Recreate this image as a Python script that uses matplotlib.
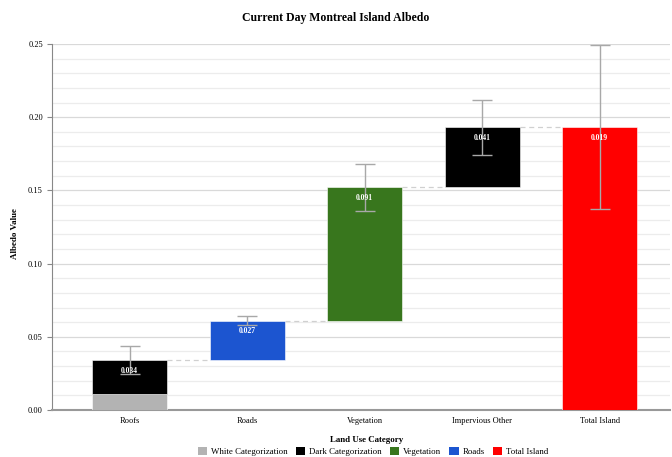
import numpy as np
import matplotlib
matplotlib.use("Agg")
import matplotlib.pyplot as plt
from matplotlib.patches import Patch
from matplotlib.ticker import MultipleLocator, FormatStrFormatter

plt.rcParams["font.family"] = ["Liberation Serif", "DejaVu Serif"]

categories = ["Roofs", "Roads", "Vegetation", "Impervious Other", "Total Island"]
increments = [0.034, 0.027, 0.091, 0.041]          # waterfall steps
roof_white = 0.011                                  # white share of roofs
roof_dark = 0.023                                   # dark share of roofs
bar_labels = ["0.034", "0.027", "0.091", "0.041", "0.019"]
errors = [0.0095, 0.003, 0.016, 0.019, 0.056]

colors = {
    "White Categorization": "#b3b3b3",
    "Dark Categorization": "#000000",
    "Vegetation": "#38761d",
    "Roads": "#1c55d0",
    "Total Island": "#ff0000",
}

tops = np.cumsum(increments)
bottoms = np.concatenate([[0], tops[:-1]])
total = tops[-1]

fig = plt.figure(figsize=(6.72, 4.57), dpi=100)
ax = fig.add_axes([0.0774, 0.1028, 0.92, 0.8009])

x = np.arange(len(categories))
w = 0.64
edge = dict(edgecolor="#ffffff", linewidth=0.4)

# Roofs: white and dark parts stacked
ax.bar(x[0], roof_white, w, bottom=0, color=colors["White Categorization"], **edge, zorder=3)
ax.bar(x[0], roof_dark, w, bottom=roof_white, color=colors["Dark Categorization"], **edge, zorder=3)
ax.bar(x[1], increments[1], w, bottom=bottoms[1], color=colors["Roads"], **edge, zorder=3)
ax.bar(x[2], increments[2], w, bottom=bottoms[2], color=colors["Vegetation"], **edge, zorder=3)
ax.bar(x[3], increments[3], w, bottom=bottoms[3], color=colors["Dark Categorization"], **edge, zorder=3)
ax.bar(x[4], total, w, bottom=0, color=colors["Total Island"], **edge, zorder=3)

bar_tops = list(tops) + [total]

# connector lines between consecutive bars
for i in range(len(categories) - 1):
    ax.plot([x[i] + w / 2, x[i + 1] - w / 2], [bar_tops[i], bar_tops[i]],
            ls=(0, (4, 3)), color="#d0d0d0", lw=0.9, zorder=2)

# error bars
ax.errorbar(x, bar_tops, yerr=errors, fmt="none", ecolor="#a8a8a8",
            elinewidth=1.0, capsize=7.5, capthick=1.0, zorder=4)

# value labels
for xi, top, lab in zip(x, bar_tops, bar_labels):
    ax.annotate(lab, (xi, top), xytext=(0, -7.5), textcoords="offset points",
                ha="center", va="center", color="white", fontsize=5.5,
                fontweight="bold", zorder=5)

ax.set_xlim(-0.66, 4.6)
ax.set_ylim(0, 0.25)
ax.yaxis.set_major_locator(MultipleLocator(0.05))
ax.yaxis.set_minor_locator(MultipleLocator(0.01))
ax.yaxis.set_major_formatter(FormatStrFormatter("%.2f"))
ax.grid(which="major", axis="y", color="#d9d9d9", lw=0.9, zorder=0)
ax.grid(which="minor", axis="y", color="#ececec", lw=0.9, zorder=0)
ax.set_axisbelow(True)

ax.set_xticks(x)
ax.set_xticklabels(categories, fontsize=6)
ax.tick_params(axis="x", length=0, pad=5)
ax.tick_params(axis="y", which="major", labelsize=6, length=3.5, color="#888888", pad=3)
ax.tick_params(axis="y", which="minor", length=0)

for s in ["top", "right"]:
    ax.spines[s].set_visible(False)
ax.spines["left"].set_color("#888888")
ax.spines["left"].set_linewidth(0.8)
ax.spines["bottom"].set_color("#999999")
ax.spines["bottom"].set_linewidth(1.5)

fig.text(0.023, 0.488, "Albedo Value", rotation=90, ha="center", va="center",
         fontsize=6.5, fontweight="bold")
fig.text(0.5, 0.9605, "Current Day Montreal Island Albedo", ha="center", va="center",
         fontsize=8.5, fontweight="bold")
fig.text(0.545, 0.037, "Land Use Category", ha="center", va="center",
         fontsize=6.4, fontweight="bold")

handles = [Patch(facecolor=c, edgecolor="none", label=k) for k, c in colors.items()]
fig.legend(handles=handles, loc="center", bbox_to_anchor=(0.555, 0.012), ncol=5,
           frameon=False, fontsize=6.4, handlelength=1.1, handleheight=1.1,
           handletextpad=0.4, columnspacing=0.9, borderaxespad=0)

fig.savefig("out.png", dpi=100)
